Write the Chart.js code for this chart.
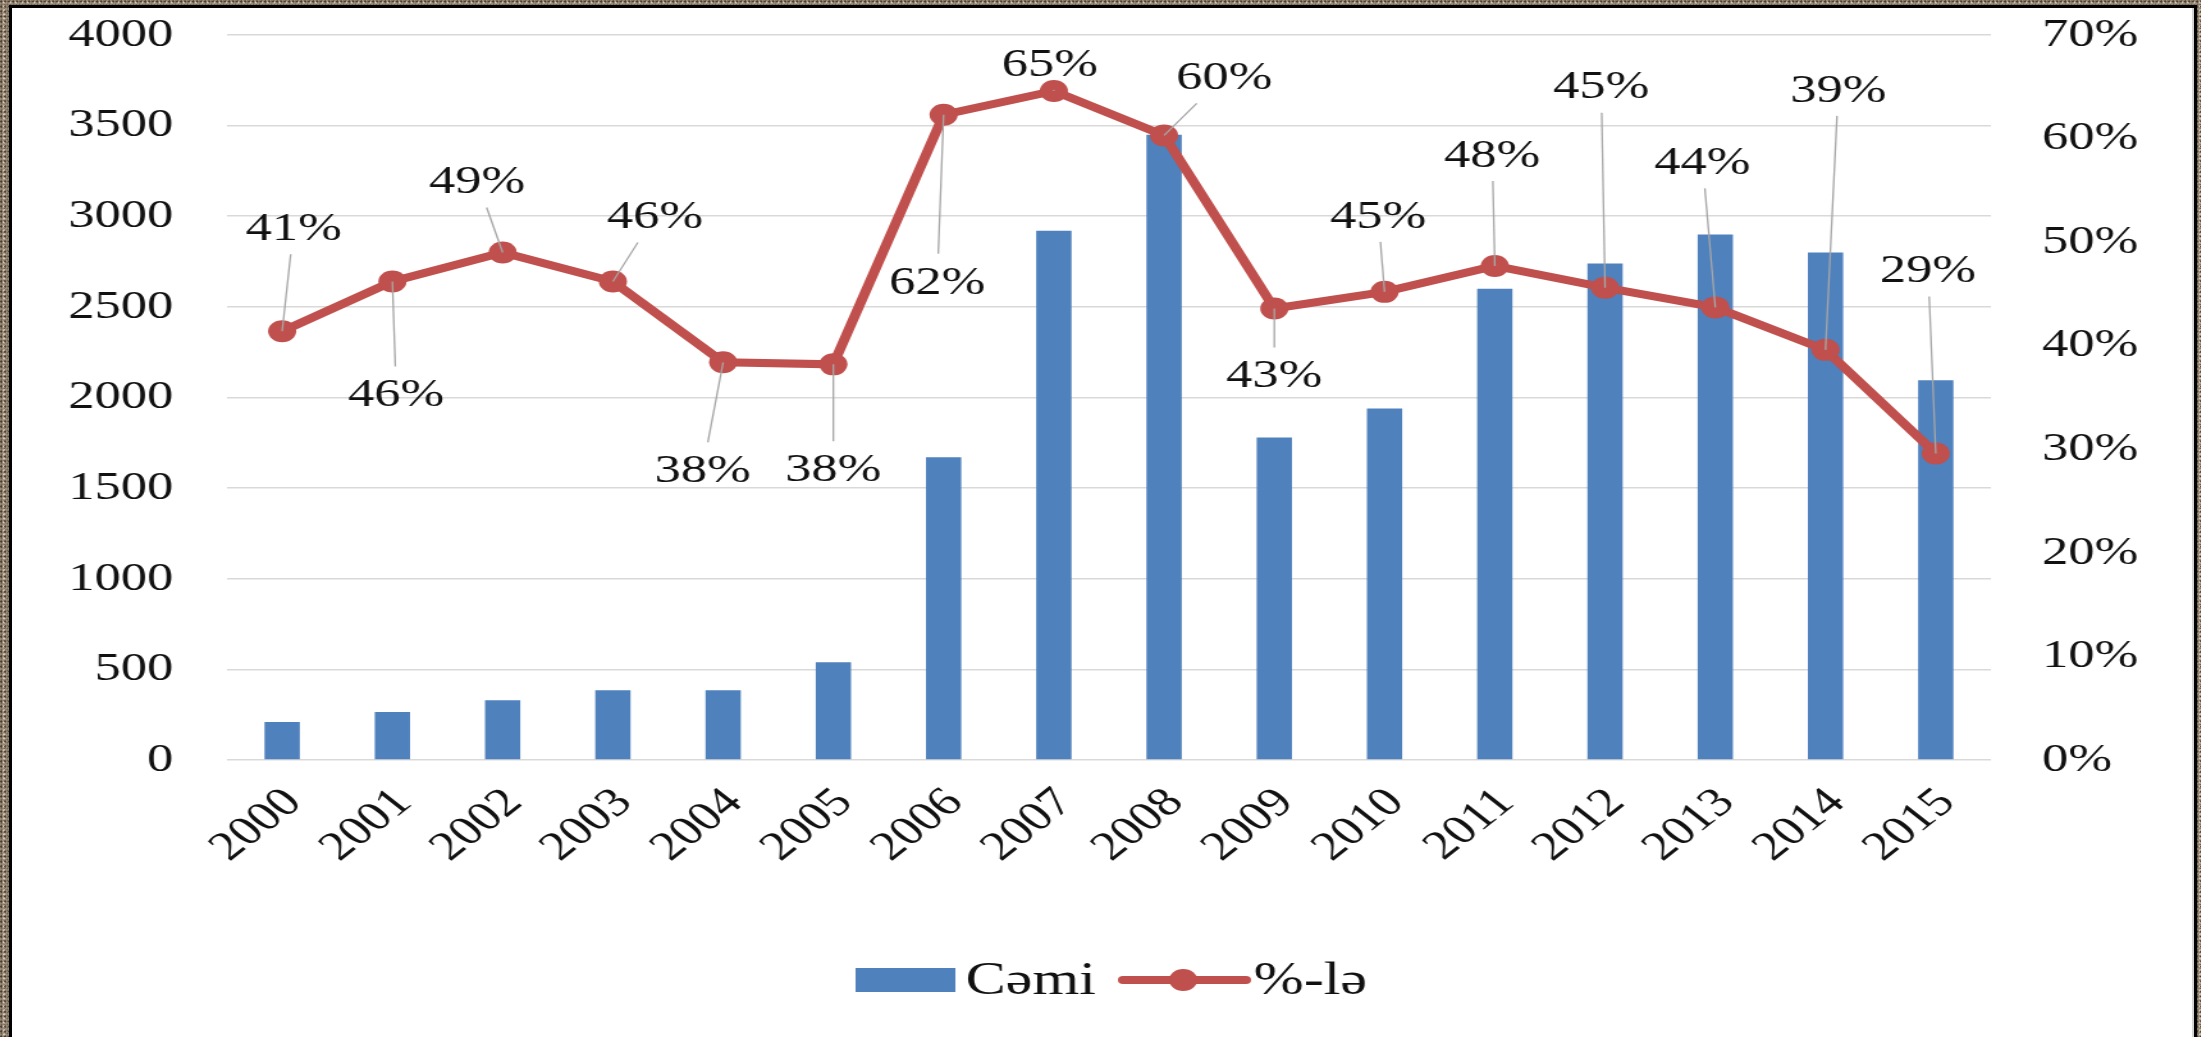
<!DOCTYPE html>
<html>
<head>
<meta charset="utf-8">
<script src="https://cdn.jsdelivr.net/npm/chart.js@4.4.1/dist/chart.umd.min.js"></script>
<style>
  html, body { margin: 0; padding: 0; }
  body {
    width: 2201px; height: 1037px; overflow: hidden; position: relative;
    background-color: #9a8a78;
    background-image:
      radial-gradient(circle at 30% 30%, rgba(55,42,30,0.7) 0.8px, transparent 1.4px),
      radial-gradient(circle at 70% 60%, rgba(230,222,208,0.75) 0.8px, transparent 1.5px),
      radial-gradient(circle at 50% 50%, rgba(85,68,50,0.55) 0.7px, transparent 1.2px);
    background-size: 4px 5px, 6px 4px, 3px 3px;
  }
  #frame {
    position: absolute; left: 9px; top: 5px; width: 2182px; height: 1029px;
    border-left: 3px solid #000; border-top: 3px solid #000; border-right: 3px solid #000;
    border-bottom: 1px solid #d0d0d0;
    background: #fff; overflow: hidden;
  }
  #frame::after {
    content: ""; position: absolute; right: 0; top: 0; width: 2px; height: 100%; background: #d4d4d4;
  }
  #wrap { position: absolute; left: 0; top: 0; transform: scale(1.28, 1); transform-origin: 0 0; }
</style>
</head>
<body>
<div id="frame"><div id="wrap"><canvas id="myChart" width="1705" height="1029"></canvas></div></div>
<script>
// data
let illər = ['2000', '2001', '2002', '2003', '2004', '2005', '2006', '2007',
             '2008', '2009', '2010', '2011', '2012', '2013', '2014', '2015'];
let cemi = [210, 265, 330, 385, 385, 540, 1670, 2920, 3450, 1780, 1940, 2600, 2740, 2900, 2800, 2095];
let faiz = [41.4, 46.2, 49.0, 46.2, 38.4, 38.2, 62.3, 64.6, 60.3, 43.6, 45.2, 47.7, 45.6, 43.7, 39.6, 29.6];
let faiz_yazi = ['41%', '46%', '49%', '46%', '38%', '38%', '62%', '65%', '60%', '43%', '45%', '48%', '45%', '44%', '39%', '29%'];

let bar_warna = '#4f81bd';
let xett_warna = '#c0504d';
let sirift = "'Liberation Serif', 'Times New Roman', serif";

// where each data label sits relative to its point (canvas px)
let yazi_yer = [[9, -104], [3, 112], [-20, -72], [33, -66], [-16, 107], [0, 104], [-5, 166], [-3, -28],
                [47, -59], [0, 66], [-5, -77], [-2, -112], [-3, -202], [-10, -146], [10, -261], [-6, -184]];

// data labels with leader lines
const faizYazilar = {
    id: 'faizYazilar',
    afterDatasetsDraw(chart) {
        let ctx = chart.ctx;
        let meta = chart.getDatasetMeta(0);
        ctx.save();
        ctx.font = '41px ' + sirift;
        ctx.textAlign = 'center';
        ctx.textBaseline = 'middle';
        meta.data.forEach(function (pt, i) {
            let dx = yazi_yer[i][0], dy = yazi_yer[i][1];
            let lx = pt.x + dx, ly = pt.y + dy;
            let hw = 40, hh = 27;
            let t = Math.min(Math.abs(dx) > 0 ? hw / Math.abs(dx) : 99, Math.abs(dy) > 0 ? hh / Math.abs(dy) : 99);
            if (t < 1) {
                ctx.strokeStyle = '#a6a6a6';
                ctx.lineWidth = 1.3;
                ctx.beginPath();
                ctx.moveTo(pt.x, pt.y);
                ctx.lineTo(pt.x + dx * (1 - t), pt.y + dy * (1 - t));
                ctx.stroke();
            }
            ctx.fillStyle = '#111';
            ctx.fillText(faiz_yazi[i], lx, ly + 2);
        });
        ctx.restore();
    }
};

// legend like the original (box, then line with marker)
const legendCizgi = {
    id: 'legendCizgi',
    afterDraw(chart) {
        let ctx = chart.ctx;
        let ds = chart.data.datasets;
        let y = 972;
        ctx.save();
        ctx.font = '47px ' + sirift;
        ctx.textBaseline = 'middle';
        ctx.fillStyle = bar_warna;
        ctx.fillRect(659, y - 12, 78, 24);
        ctx.fillStyle = '#111';
        ctx.fillText(ds[1].label, 745, y + 2);
        ctx.strokeStyle = xett_warna;
        ctx.lineWidth = 8;
        ctx.lineCap = 'round';
        ctx.beginPath();
        ctx.moveTo(868, y);
        ctx.lineTo(964, y);
        ctx.stroke();
        ctx.fillStyle = xett_warna;
        ctx.beginPath();
        ctx.arc(915, y, 11, 0, Math.PI * 2);
        ctx.fill();
        ctx.fillStyle = '#111';
        ctx.fillText(ds[0].label, 970, y + 2);
        ctx.restore();
    }
};

function bosPadding(scale) {
    scale.paddingTop = 0;
    scale.paddingBottom = 0;
}

var ctx = document.getElementById('myChart').getContext('2d');
var chart = new Chart(ctx, {
    type: 'bar',
    data: {
        labels: illər,
        datasets: [{
            type: 'line',
            label: '%-lə',
            data: faiz,
            yAxisID: 'y1',
            borderColor: xett_warna,
            backgroundColor: xett_warna,
            borderWidth: 8,
            pointRadius: 11,
            pointBorderWidth: 0,
            tension: 0,
            order: 0
        }, {
            label: 'Cəmi',
            data: cemi,
            yAxisID: 'y',
            backgroundColor: bar_warna,
            barPercentage: 0.32,
            categoryPercentage: 1,
            order: 1
        }]
    },
    plugins: [faizYazilar, legendCizgi],
    options: {
        responsive: false,
        animation: false,
        layout: { padding: { top: 27, left: 0, right: 0, bottom: 0 } },
        plugins: {
            legend: { display: false },
            tooltip: { enabled: false }
        },
        scales: {
            x: {
                grid: { display: false, drawTicks: false },
                border: { display: false },
                ticks: {
                    color: '#111', font: { family: sirift, size: 41 },
                    minRotation: 45, maxRotation: 45, autoSkip: false, padding: 19, labelOffset: 9
                },
                afterFit(scale) { scale.height = 277; }
            },
            y: {
                position: 'left',
                min: 0, max: 4000,
                ticks: {
                    stepSize: 500, color: '#111', font: { family: sirift, size: 41 }, padding: 42,
                    callback: function (v) { return String(v); }
                },
                grid: { color: '#d9d9d9', lineWidth: 1.6, drawTicks: false },
                border: { display: false },
                afterFit(scale) { scale.width = 168; bosPadding(scale); }
            },
            y1: {
                position: 'right',
                min: 0, max: 70,
                ticks: {
                    stepSize: 10, color: '#111', font: { family: sirift, size: 41 }, padding: 40,
                    callback: function (v) { return v + '%'; }
                },
                grid: { display: false, drawTicks: false },
                border: { display: false },
                afterFit(scale) { scale.width = 159; bosPadding(scale); }
            }
        }
    }
});
</script>
</body>
</html>
